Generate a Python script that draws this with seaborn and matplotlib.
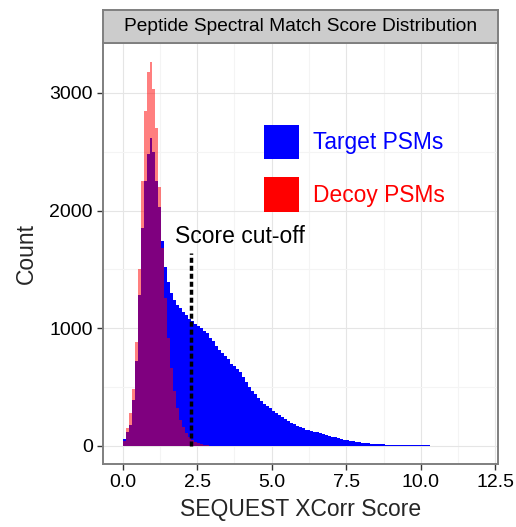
import numpy as np
import pandas as pd
import matplotlib
matplotlib.use("Agg")
import matplotlib.pyplot as plt
import seaborn as sns
from matplotlib.patches import Patch

# ---------------- data ----------------
bin_width = 0.1
target_counts = [60, 120, 180, 390, 720, 1280, 1850, 2250, 2480, 2620,
                 2500, 2250, 2030, 1740, 1520, 1390, 1300, 1240, 1200, 1170,
                 1140, 1110, 1080, 1060, 1040, 1020, 1000, 980, 960, 920,
                 890, 850, 815, 790, 765, 735, 700, 680, 650, 625,
                 585, 545, 505, 465, 440, 410, 385, 360, 340, 320,
                 300, 282, 262, 245, 228, 212, 198, 185, 172, 160,
                 150, 140, 132, 126, 122, 119, 114, 106, 96, 88,
                 80, 75, 69, 62, 55, 50, 45, 40, 35, 30,
                 27, 24, 23, 20, 18, 16, 15, 13, 12, 11,
                 10, 10, 9, 9, 8, 8, 7, 7, 6, 6,
                 5, 5, 5, 4, 4, 4, 4, 3, 3, 3,
                 3, 3, 2, 2, 2, 2, 2, 2, 1, 1]
decoy_counts = [40, 150, 280, 480, 880, 1500, 2250, 2850, 3180, 3260,
                3030, 2700, 2200, 1680, 1260, 920, 660, 470, 320, 220,
                160, 110, 75, 50, 35, 22, 14, 9, 6, 4,
                3, 2, 1]
series_labels = ["Target PSMs", "Decoy PSMs"]
series_colors = ["#0000FF", "#FF0000"]
x_ticks = [0.0, 2.5, 5.0, 7.5, 10.0, 12.5]
x_tick_labels = ["0.0", "2.5", "5.0", "7.5", "10.0", "12.5"]
x_minor = [1.25, 3.75, 6.25, 8.75, 11.25]
y_ticks = [0, 1000, 2000, 3000]
y_minor = [500, 1500, 2500]
cutoff_score = 2.3
cutoff_top = 1640
cutoff_label = "Score cut-off"
strip_title = "Peptide Spectral Match Score Distribution"
x_label = "SEQUEST XCorr Score"
y_label = "Count"


def make_frame(counts, name):
    centers = (np.arange(len(counts)) + 0.5) * bin_width
    return pd.DataFrame({"score": centers, "count": counts, "type": name})


df_target = make_frame(target_counts, series_labels[0])
df_decoy = make_frame(decoy_counts, series_labels[1])

# ---------------- figure ----------------
sns.set_theme(style="white")
plt.rcParams['font.family'] = ['Liberation Sans', 'DejaVu Sans']

W, H = 516, 527
fig = plt.figure(figsize=(W / 100, H / 100), dpi=100)
pl, pr, pt, pb = 102.7, 498.3, 43.3, 464.0
ax = fig.add_axes([pl / W, (H - pb) / H, (pr - pl) / W, (pb - pt) / H])

sns.histplot(data=df_target, x="score", weights="count", binwidth=bin_width,
             binrange=(0, len(target_counts) * bin_width),
             color=series_colors[0], alpha=1.0, linewidth=0, ax=ax)
sns.histplot(data=df_decoy, x="score", weights="count", binwidth=bin_width,
             binrange=(0, len(decoy_counts) * bin_width),
             color=series_colors[1], alpha=0.5, linewidth=0, ax=ax)

ax.set_xlim(-0.67, 12.6)
ax.set_ylim(-153, 3421)
ax.set_xticks(x_ticks)
ax.set_xticklabels(x_tick_labels)
ax.set_xticks(x_minor, minor=True)
ax.set_yticks(y_ticks)
ax.set_yticks(y_minor, minor=True)
ax.set_axisbelow(True)
ax.grid(which='major', color='#E5E5E5', linewidth=0.8)
ax.grid(which='minor', color='#F4F4F4', linewidth=0.8)
ax.tick_params(which='major', length=4, width=1.0, color='#333333',
               labelsize=14, labelcolor='black', pad=3, bottom=True, left=True)
ax.tick_params(which='minor', length=0)
for s in ax.spines.values():
    s.set_color('#7F7F7F')
    s.set_linewidth(1.4)

ax.set_xlabel(x_label, fontsize=16.5, labelpad=5)
ax.set_ylabel(y_label, fontsize=16.5, labelpad=8)

# cut-off annotation
ax.vlines(cutoff_score, 0, cutoff_top, colors='black',
          linestyles=(0, (1.45, 0.85)), linewidth=2.5)
ax.text(3.92, 1728, cutoff_label, ha='center', va='baseline', fontsize=16.5,
        color='black')

# legend
handles = [Patch(facecolor=c, edgecolor='none') for c in series_colors]
leg = ax.legend(handles, series_labels, loc='upper left',
                bbox_to_anchor=(0.4076, 0.806), frameon=False, fontsize=16.4,
                handlelength=1.55, handleheight=1.95, handletextpad=0.6,
                labelspacing=0.78, borderpad=0, borderaxespad=0)
for txt, c in zip(leg.get_texts(), series_colors):
    txt.set_color(c)

# facet strip
st, sb = 10.0, 43.3
sax = fig.add_axes([pl / W, (H - sb) / H, (pr - pl) / W, (sb - st) / H])
sax.set_facecolor('#CCCCCC')
sax.set_xticks([])
sax.set_yticks([])
for s in sax.spines.values():
    s.set_color('#7F7F7F')
    s.set_linewidth(1.4)
sax.text(0.5, 0.5, strip_title, ha='center', va='center', fontsize=13.8,
         color='black', transform=sax.transAxes)

fig.savefig("out.png", dpi=100)
